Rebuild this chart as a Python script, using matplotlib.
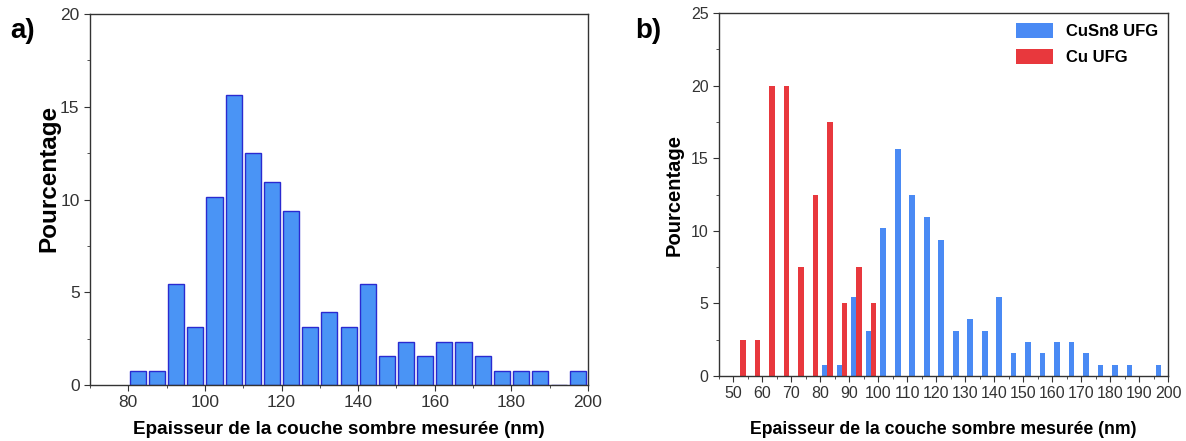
import numpy as np
import matplotlib
matplotlib.use("Agg")
import matplotlib.pyplot as plt
from matplotlib.ticker import MultipleLocator

plt.rcParams['font.family'] = ['Liberation Sans', 'DejaVu Sans']

# bin centres (nm) and percentages
cusn8_bins = [82.5, 87.5, 92.5, 97.5, 102.5, 107.5, 112.5, 117.5, 122.5, 127.5,
              132.5, 137.5, 142.5, 147.5, 152.5, 157.5, 162.5, 167.5, 172.5,
              177.5, 182.5, 187.5, 192.5, 197.5]
cusn8_pct = [0.78, 0.78, 5.47, 3.13, 10.16, 15.63, 12.5, 10.94, 9.38, 3.13,
             3.91, 3.13, 5.47, 1.56, 2.34, 1.56, 2.34, 2.34, 1.56,
             0.78, 0.78, 0.78, 0.0, 0.78]

cu_bins = [52.5, 57.5, 62.5, 67.5, 72.5, 77.5, 82.5, 87.5, 92.5, 97.5]
cu_pct = [2.5, 2.5, 20, 20, 7.5, 12.5, 17.5, 5, 7.5, 5]

xlabel = "Epaisseur de la couche sombre mesurée (nm)"
ylabel = "Pourcentage"

fig = plt.figure(figsize=(11.86, 4.41), dpi=100)
ax1 = fig.add_axes([90/1186, 1-385/441, 498/1186, 371/441])
ax2 = fig.add_axes([719/1186, 1-376/441, 449/1186, 363/441])

# panel a
ax1.bar(cusn8_bins, cusn8_pct, width=4.2, color='#4a94f5', edgecolor='#2a2ad0', linewidth=1.0)
ax1.set_xlim(70, 200)
ax1.set_ylim(0, 20)
ax1.xaxis.set_major_locator(MultipleLocator(20))
ax1.xaxis.set_minor_locator(MultipleLocator(10))
ax1.yaxis.set_major_locator(MultipleLocator(5))
ax1.yaxis.set_minor_locator(MultipleLocator(2.5))
ax1.set_xlabel(xlabel, fontsize=13.6, fontweight='bold')
ax1.set_ylabel(ylabel, fontsize=17.5, fontweight='bold')
ax1.xaxis.set_label_coords(0.5, -0.097)
ax1.yaxis.set_label_coords(-0.060, 0.558)

# panel b
ax2.bar([b - 0.8 for b in cusn8_bins], cusn8_pct, width=2.0, color='#4a8af4', label='CuSn8 UFG')
ax2.bar([b + 0.8 for b in cu_bins], cu_pct, width=2.0, color='#e8383d', label='Cu UFG')
ax2.set_xlim(45, 200)
ax2.set_ylim(0, 25)
ax2.xaxis.set_major_locator(MultipleLocator(10))
ax2.xaxis.set_minor_locator(MultipleLocator(5))
ax2.yaxis.set_major_locator(MultipleLocator(5))
ax2.yaxis.set_minor_locator(MultipleLocator(2.5))
ax2.set_xlabel(xlabel, fontsize=12.7, fontweight='bold')
ax2.set_ylabel(ylabel, fontsize=14.5, fontweight='bold')
ax2.xaxis.set_label_coords(0.5, -0.124)
ax2.yaxis.set_label_coords(-0.078, 0.5)
ax2.legend(loc='upper right', frameon=False, prop={'weight': 'bold', 'size': 12},
           handlelength=2.2, handleheight=1.0, borderaxespad=0.2, labelspacing=0.6)

for ax, ls in ((ax1, 12.5), (ax2, 11.5)):
    ax.tick_params(which='both', direction='out', labelsize=ls, colors='#333333', labelcolor='#333333')
    ax.tick_params(which='major', length=4)
    ax.tick_params(which='minor', length=2.5)
    for s in ax.spines.values():
        s.set_linewidth(1.0)
        s.set_color('#333333')

fig.text(10/1186, 1-31/441, "a)", fontsize=20, fontweight='bold', va='center')
fig.text(635/1186, 1-31/441, "b)", fontsize=20, fontweight='bold', va='center')

fig.savefig("out.png", dpi=100)
